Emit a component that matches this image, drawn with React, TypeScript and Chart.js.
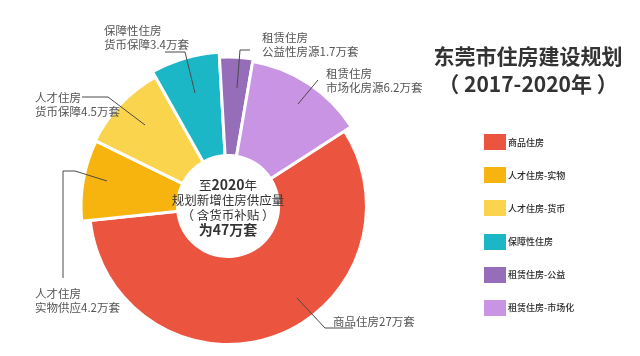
import React, { useEffect, useRef } from "react";
import { Chart, registerables } from "chart.js";

Chart.register(...registerables);

// ---- data ----
const categories = [
  "商品住房",
  "人才住房-实物",
  "人才住房-货币",
  "保障性住房",
  "租赁住房-公益",
  "租赁住房-市场化",
];
const values = [27, 4.2, 4.5, 3.4, 1.7, 6.2]; // 万套
const calloutTexts = [
  ["商品住房27万套"],
  ["人才住房", "实物供应4.2万套"],
  ["人才住房", "货币保障4.5万套"],
  ["保障性住房", "货币保障3.4万套"],
  ["租赁住房", "公益性房源1.7万套"],
  ["租赁住房", "市场化房源6.2万套"],
];
const titleLines = ["东莞市住房建设规划", "（ 2017-2020年 ）"];
const totalText = "为47万套";

// ---- styles / layout ----
const colors = ["#EB5540", "#F8B40E", "#FAD44C", "#1CB7C6", "#966DB8", "#C994E3"];
const sliceRadius = [138.5, 147, 148, 154, 149, 146.5];
const holeRadius = 50.5;
const calloutPos = [
  { left: 333, top: 314 },
  { left: 35, top: 286 },
  { left: 35, top: 90 },
  { left: 104, top: 23 },
  { left: 262, top: 30 },
  { left: 326, top: 66 },
];
const leaderLines: number[][][] = [
  [[297, 298], [325, 328], [353, 328]],
  [[63, 278], [63, 171], [75, 171], [107, 181]],
  [[82, 97], [108, 97], [145, 125]],
  [[165, 52], [185, 52], [195, 93]],
  [[250, 50], [240, 50], [237, 88]],
  [[318, 80], [298, 104]],
];
const FONT = '"Noto Sans CJK SC", "Noto Sans", sans-serif';

const radiusPlugin = {
  id: "sliceRadius",
  afterDatasetsUpdate(chart: any) {
    const meta = chart.getDatasetMeta(0);
    meta.data.forEach((arc: any, i: number) => {
      arc.outerRadius = sliceRadius[i];
      arc.innerRadius = holeRadius;
    });
  },
};

const leaderPlugin = {
  id: "leaders",
  afterDraw(chart: any) {
    const ctx = chart.ctx;
    ctx.save();
    ctx.strokeStyle = "#4a4a4a";
    ctx.lineWidth = 1;
    leaderLines.forEach((pts) => {
      ctx.beginPath();
      pts.forEach((p, i) => (i === 0 ? ctx.moveTo(p[0], p[1]) : ctx.lineTo(p[0], p[1])));
      ctx.stroke();
    });
    ctx.restore();
  },
};

export default function App() {
  const ref = useRef<HTMLCanvasElement | null>(null);

  useEffect(() => {
    document.body.style.margin = "0";
    document.body.style.background = "#ffffff";
    const total = values.reduce((a, b) => a + b, 0);
    const rotation = ((values[4] + values[5]) / total) * 360 - 3.3;
    const chart = new Chart(ref.current as HTMLCanvasElement, {
      type: "doughnut",
      data: {
        labels: categories,
        datasets: [
          {
            data: values,
            backgroundColor: colors,
            borderColor: "#ffffff",
            borderWidth: 3,
            hoverOffset: 0,
          },
        ],
      },
      options: {
        responsive: false,
        animation: false,
        rotation,
        layout: { padding: { left: 0, right: 184, top: 56, bottom: 0 } },
        plugins: {
          legend: { display: false },
          tooltip: { enabled: false },
        },
        events: [],
      },
      plugins: [radiusPlugin, leaderPlugin],
    });
    return () => chart.destroy();
  }, []);

  return (
    <div style={{ position: "relative", width: 640, height: 356, background: "#fff", fontFamily: FONT, overflow: "hidden" }}>
      <canvas ref={ref} width={640} height={356} style={{ position: "absolute", left: 0, top: 0 }} />

      {/* title */}
      <div style={{ position: "absolute", left: 400, width: 256, top: 41, textAlign: "center", fontSize: 21, fontWeight: 700, color: "#333", lineHeight: "28px", whiteSpace: "nowrap" }}>
        <div>{titleLines[0]}</div>
        <div>{titleLines[1]}</div>
      </div>

      {/* legend */}
      <div style={{ position: "absolute", left: 484, top: 134 }}>
        {categories.map((c, i) => (
          <div key={c} style={{ display: "flex", alignItems: "center", height: 16, marginBottom: 17.2 }}>
            <div style={{ width: 22, height: 16, background: colors[i] }} />
            <div style={{ marginLeft: 2, fontSize: 9, color: "#2a2a2a", fontWeight: 500, whiteSpace: "nowrap" }}>{c}</div>
          </div>
        ))}
      </div>

      {/* center text */}
      <div style={{ position: "absolute", left: 163, width: 130, top: 177, textAlign: "center", color: "#333", fontSize: 12.5, lineHeight: "15px", whiteSpace: "nowrap" }}>
        <div>
          至<span style={{ fontWeight: 700, fontSize: 14 }}>2020</span>年
        </div>
        <div>规划新增住房供应量</div>
        <div>（ 含货币补贴 ）</div>
        <div style={{ fontWeight: 700, fontSize: 14 }}>{totalText}</div>
      </div>

      {/* callouts */}
      {calloutTexts.map((lines, i) => (
        <div key={i} style={{ position: "absolute", left: calloutPos[i].left, top: calloutPos[i].top, fontSize: 11.5, lineHeight: "14px", color: "#555", whiteSpace: "nowrap" }}>
          {lines.map((l) => (
            <div key={l}>{l}</div>
          ))}
        </div>
      ))}
    </div>
  );
}
